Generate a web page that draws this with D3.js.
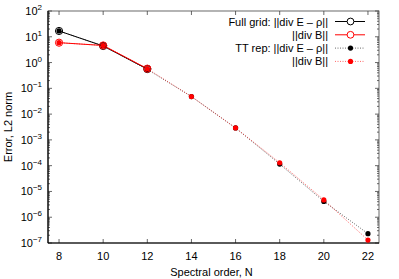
<!DOCTYPE html>
<html>
<head>
<meta charset="utf-8">
<script src="https://cdn.jsdelivr.net/npm/d3@7"></script>
<style>
  body { margin: 0; background: #fff; }
  text { font-family: "Liberation Sans", Arial, sans-serif; }
</style>
</head>
<body>
<div id="chart"></div>
<script>
// spectral orders
var fullN = [8, 10, 12];
var ttN = [8, 10, 12, 14, 16, 18, 20, 22];

// full grid errors
var fullDivE = [16.8, 4.4, 0.56];
var fullDivB = [5.9, 4.6, 0.58];

// tensor train errors
var ttDivE = [16.8, 4.4, 0.54, 0.048, 0.0029, 1.15e-4, 4.1e-6, 2.3e-7];
var ttDivB = [5.9, 4.6, 0.58, 0.048, 0.0029, 1.3e-4, 4.7e-6, 1.3e-7];

var xTicks = [8, 10, 12, 14, 16, 18, 20, 22];
var yExp = [2, 1, 0, -1, -2, -3, -4, -5, -6, -7];

var legendLabels = ["Full grid: ||div E \u2013 \u03c1||", "||div B||", "TT rep: ||div E \u2013 \u03c1||", "||div B||"];

var margin = {top: 11, right: 20, bottom: 36, left: 48},
    width = 399 - margin.left - margin.right,
    height = 279 - margin.top - margin.bottom;

var svg = d3.select("#chart")
  .append("svg")
    .attr("width", 399)
    .attr("height", 279)
  .append("g")
    .attr("transform", "translate(" + margin.left + "," + margin.top + ")");

var x = d3.scaleLinear().domain([7.5, 22.5]).range([0, width]);
var y = d3.scaleLog().domain([1e-7, 1e2]).range([height, 0]);

// minor ticks for the log axis
var minor = [];
yExp.forEach(function(e) {
  if (e === 2) return;
  for (var k = 2; k <= 9; k++) minor.push(k * Math.pow(10, e));
});

var ticks = svg.append("g").attr("stroke", "#000").attr("stroke-width", 0.6);
xTicks.forEach(function(t) {
  ticks.append("line").attr("x1", x(t)).attr("x2", x(t)).attr("y1", height).attr("y2", height - 4);
  ticks.append("line").attr("x1", x(t)).attr("x2", x(t)).attr("y1", 0).attr("y2", 4);
});
yExp.forEach(function(e) {
  var v = Math.pow(10, e);
  ticks.append("line").attr("x1", 0).attr("x2", 4).attr("y1", y(v)).attr("y2", y(v));
  ticks.append("line").attr("x1", width).attr("x2", width - 4).attr("y1", y(v)).attr("y2", y(v));
});
minor.forEach(function(v) {
  ticks.append("line").attr("x1", 0).attr("x2", 2).attr("y1", y(v)).attr("y2", y(v));
  ticks.append("line").attr("x1", width).attr("x2", width - 2).attr("y1", y(v)).attr("y2", y(v));
});

// frame
svg.append("rect").attr("width", width).attr("height", height)
  .attr("fill", "none").attr("stroke", "#444").attr("stroke-width", 0.8);
svg.append("line").attr("x1", 0).attr("x2", 0).attr("y1", 0).attr("y2", height)
  .attr("stroke", "#000").attr("stroke-width", 1.2);
svg.append("line").attr("x1", 0).attr("x2", width).attr("y1", height).attr("y2", height)
  .attr("stroke", "#000").attr("stroke-width", 1.2);

// tick labels
svg.append("g").selectAll("text").data(xTicks).enter().append("text")
  .attr("x", function(d) { return x(d); })
  .attr("y", height + 17)
  .attr("text-anchor", "middle")
  .style("font-size", "11px")
  .text(function(d) { return d; });

var yl = svg.append("g").selectAll("text").data(yExp).enter().append("text")
  .attr("x", -6)
  .attr("y", function(d) { return y(Math.pow(10, d)) + 4; })
  .attr("text-anchor", "end")
  .style("font-size", "11px");
yl.append("tspan").text("10");
yl.append("tspan").attr("dy", -5).style("font-size", "8px").text(function(d) { return d < 0 ? "\u2212" + (-d) : d; });

// axis titles
svg.append("text")
  .attr("x", width / 2 - 2).attr("y", height + 33)
  .attr("text-anchor", "middle").style("font-size", "11px")
  .text("Spectral order, N");
svg.append("text")
  .attr("transform", "translate(" + (-36) + "," + (height / 2) + ") rotate(-90)")
  .attr("text-anchor", "middle").style("font-size", "11px")
  .text("Error, L2 norm");

var line = d3.line().x(function(d) { return x(d[0]); }).y(function(d) { return y(d[1]); });
function zip(a, b) { return a.map(function(v, i) { return [v, b[i]]; }); }

// TT rep (dotted)
svg.append("path").datum(zip(ttN, ttDivE)).attr("d", line)
  .attr("fill", "none").attr("stroke", "#000").attr("stroke-width", 0.6).attr("stroke-dasharray", "1,1.5");
svg.append("path").datum(zip(ttN, ttDivB)).attr("d", line)
  .attr("fill", "none").attr("stroke", "#f00").attr("stroke-width", 0.6).attr("stroke-dasharray", "1,1.5");

// full grid (solid)
svg.append("path").datum(zip(fullN, fullDivE)).attr("d", line)
  .attr("fill", "none").attr("stroke", "#000").attr("stroke-width", 1);
svg.append("path").datum(zip(fullN, fullDivB)).attr("d", line)
  .attr("fill", "none").attr("stroke", "#f00").attr("stroke-width", 1);

// markers
svg.append("g").selectAll("circle").data(zip(ttN, ttDivE)).enter().append("circle")
  .attr("cx", function(d) { return x(d[0]); }).attr("cy", function(d) { return y(d[1]); })
  .attr("r", 2.6).attr("fill", "#000");
svg.append("g").selectAll("circle").data(zip(ttN, ttDivB)).enter().append("circle")
  .attr("cx", function(d) { return x(d[0]); }).attr("cy", function(d) { return y(d[1]); })
  .attr("r", 2.6).attr("fill", "#f00");
svg.append("g").selectAll("circle").data(zip(fullN, fullDivE)).enter().append("circle")
  .attr("cx", function(d) { return x(d[0]); }).attr("cy", function(d) { return y(d[1]); })
  .attr("r", 3.6).attr("fill", "none").attr("stroke", "#000").attr("stroke-width", 1);
svg.append("g").selectAll("circle").data(zip(fullN, fullDivB)).enter().append("circle")
  .attr("cx", function(d) { return x(d[0]); }).attr("cy", function(d) { return y(d[1]); })
  .attr("r", 3.6).attr("fill", "none").attr("stroke", "#f00").attr("stroke-width", 1);

// legend
var legColor = ["#000", "#f00", "#000", "#f00"];
var legDash = [null, null, "1,1.5", "1,1.5"];
var leg = svg.append("g").attr("transform", "translate(" + (328 - margin.left) + ",0)");
legendLabels.forEach(function(lab, i) {
  var yy = 10.5 + i * 13.3;
  leg.append("text").attr("x", 0).attr("y", yy + 4).attr("text-anchor", "end")
    .style("font-size", "11px").text(lab);
  leg.append("line").attr("x1", 7).attr("x2", 37).attr("y1", yy).attr("y2", yy)
    .attr("stroke", legColor[i]).attr("stroke-width", i < 2 ? 1 : 0.6)
    .attr("stroke-dasharray", legDash[i]);
  if (i < 2) {
    leg.append("circle").attr("cx", 22.5).attr("cy", yy).attr("r", 3.4)
      .attr("fill", "#fff").attr("stroke", legColor[i]).attr("stroke-width", 1);
  } else {
    leg.append("circle").attr("cx", 22.5).attr("cy", yy).attr("r", 2.6).attr("fill", legColor[i]);
  }
});
</script>
</body>
</html>
